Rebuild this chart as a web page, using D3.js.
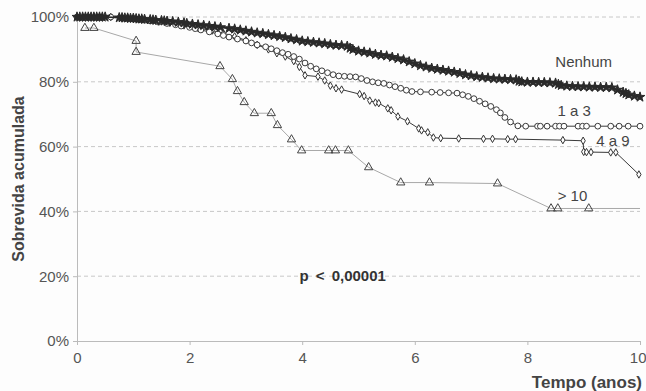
<!DOCTYPE html>
<meta charset="utf-8">
<style>
body { margin:0; background:#fdfdfd; }
svg { display:block; font-family: "Liberation Sans", Arial, sans-serif; }
.grid line { stroke:#c8c8c8; stroke-dasharray:4,3; }
.axis path, .axis line { stroke:#bbb; }
.axis text { fill:#555; font-size:15px; }
</style>
<body>
<svg width="646" height="391" id="vis"></svg>
<script src="https://d3js.org/d3.v7.min.js"></script>
<script>
// data: [tempo (anos), sobrevida %]
var nenhum = [[0,100],[0.05,100],[0.1,100],[0.15,100],[0.2,100],[0.25,100],[0.3,100],[0.35,100],[0.4,100],[0.45,100],[0.5,100],
  [0.75,99.8],[0.8,99.8],[0.85,99.7],[0.9,99.7],[0.95,99.6],[1.0,99.6],[1.05,99.5],[1.1,99.4],[1.15,99.4],[1.2,99.3],[1.3,99.2],
  [1.35,99.1],[1.4,99.0],[1.5,98.9],[1.55,98.8],[1.6,98.7],[1.7,98.6],[1.8,98.4],[1.9,98.2],[1.95,98.0],[2.05,97.8],[2.15,97.6],
  [2.25,97.4],[2.35,97.2],[2.45,97.0],[2.55,96.8],[2.7,96.5],[2.8,96.3],[2.9,96.0],[3.0,95.7],[3.1,95.4],[3.2,95.1],[3.3,94.9],
  [3.4,94.6],[3.5,94.3],[3.6,94.0],[3.7,93.7],[3.8,93.3],[3.9,93.0],[4.0,92.6],[4.1,92.4],[4.2,92.2],[4.3,92.0],[4.4,91.8],
  [4.5,91.5],[4.6,91.3],[4.7,91.2],[4.8,91.0],[4.85,90.4],[4.9,90.0],[5.0,89.5],[5.1,89.2],[5.2,88.9],[5.3,88.5],[5.4,88.2],
  [5.5,88.0],[5.6,87.6],[5.7,87.2],[5.8,86.8],[5.9,86.2],[6.0,85.6],[6.1,85.0],[6.2,84.6],[6.3,84.2],[6.4,83.9],[6.5,83.6],
  [6.6,83.3],[6.7,83.0],[6.8,82.6],[6.9,82.2],[7.0,81.9],[7.1,81.6],[7.2,81.4],[7.3,81.2],[7.4,81.0],[7.5,80.9],[7.6,80.8],
  [7.7,80.7],[7.8,80.6],[7.85,80.2],[7.9,80.0],[8.0,79.9],[8.1,79.9],[8.2,79.8],[8.3,79.8],[8.4,79.7],[8.5,79.6],[8.55,79.2],
  [8.6,78.9],[8.7,78.7],[8.8,78.6],[8.9,78.5],[9.0,78.5],[9.1,78.4],[9.2,78.4],[9.3,78.3],[9.4,78.3],[9.5,78.2],[9.6,77.5],
  [9.7,76.8],[9.75,76.4],[9.8,76.0],[9.9,75.6],[10,75.3]];

var umATres = [[0,100],[0.2,100],[0.4,100],[0.6,100],[0.8,99.8],[1.0,99.6],[1.1,99.3],[1.2,99.0],[1.3,98.8],[1.45,98.4],
  [1.6,98.0],[1.75,97.6],[1.85,97.2],[2.0,96.8],[2.1,96.4],[2.2,96.0],[2.35,95.4],[2.5,94.8],[2.6,94.3],[2.7,93.8],[2.85,93.2],
  [3.0,92.6],[3.1,92.0],[3.2,91.4],[3.35,90.8],[3.45,90.2],[3.55,89.6],[3.65,89.0],[3.75,88.5],[3.85,87.8],[3.95,87.0],
  [4.05,85.8],[4.15,84.8],[4.25,84.0],[4.35,83.4],[4.45,82.8],[4.55,82.2],[4.65,81.8],[4.75,81.7],[4.85,81.6],[4.95,81.5],
  [5.05,81.0],[5.15,80.4],[5.25,80.0],[5.35,79.7],[5.45,79.5],[5.55,79.0],[5.65,78.5],[5.75,78.0],[5.85,77.4],[5.95,77.0],
  [6.1,76.9],[6.3,76.8],[6.45,76.7],[6.6,76.6],[6.75,76.5],[6.85,76.0],[6.95,75.5],[7.05,74.8],[7.15,74.0],[7.25,73.2],
  [7.35,72.4],[7.45,71.4],[7.52,70.4],[7.6,69.0],[7.7,67.6],[7.83,66.4],[7.97,66.3],[8.18,66.3],[8.23,66.3],[8.35,66.3],
  [8.5,66.3],[8.57,66.3],[8.65,66.3],[8.9,66.3],[8.98,66.3],[9.05,66.3],[9.25,66.3],[9.48,66.3],[9.63,66.3],[9.79,66.3],[10,66.3]];

var quatroANove = [[0,100],[0.3,100],[0.6,100],[0.9,99.8],[1.15,99.4],[1.4,98.8],[1.65,98.2],[1.9,97.4],[2.15,96.6],
  [2.4,95.8],[2.6,95.0],[2.8,94.0],[3.0,92.8],[3.2,91.4],[3.4,90.0],[3.55,88.8],[3.7,87.8],[3.85,86.4],[3.95,84.6],[4.05,82.0],
  [4.28,81.6],[4.4,80.4],[4.5,78.8],[4.6,78.0],[4.7,77.6],[5.02,76.2],[5.1,75.6],[5.2,74.2],[5.3,73.6],[5.36,73.4],[5.52,71.8],
  [5.58,71.2],[5.7,69.3],[5.87,67.8],[6.07,65.6],[6.12,65.0],[6.23,64.4],[6.33,62.8],[6.46,62.6],[6.78,62.5],[7.22,62.4],
  [7.38,62.4],[7.65,62.3],[7.79,62.3],[8.63,62.0],[8.99,61.8],[9.0,58.4],[9.05,58.3],[9.13,58.3],[9.48,58.2],[9.57,58.2],[9.98,51.4]];

var maisDez = [[0.14,96.6],[0.3,96.6],[1.05,92.6],[1.05,89.2],[2.54,84.8],[2.76,80.8],[2.85,77.1],[2.97,73.7],[3.15,70.3],
  [3.45,70.3],[3.56,66.6],[3.81,62.2],[3.99,58.8],[4.47,58.8],[4.59,58.8],[4.82,58.8],[5.18,53.6],[5.75,48.9],[6.26,48.9],
  [7.47,48.6],[8.42,40.9],[8.54,40.9],[9.09,40.9],[10,40.9]];

var xTicks = [0, 2, 4, 6, 8, 10];
var yTicks = [0, 20, 40, 60, 80, 100];

var svg = d3.select("svg"),
    margin = {top: 17, right: 6, bottom: 50, left: 77},
    width = +svg.attr("width") - margin.left - margin.right,
    height = +svg.attr("height") - margin.top - margin.bottom;

var x = d3.scaleLinear().domain([0, 10]).range([0, width]),
    y = d3.scaleLinear().domain([0, 100]).range([height, 0]);

var g = svg.append("g")
    .attr("transform", "translate(" + margin.left + "," + margin.top + ")");

// dashed grid
g.append("g").attr("class", "grid")
  .selectAll("line").data(yTicks.filter(function(d){return d > 0;})).enter().append("line")
    .attr("x1", 0).attr("x2", width)
    .attr("y1", function(d){return y(d);}).attr("y2", function(d){return y(d);});

var xaxis = g.append("g")
    .attr("class", "axis axis--x")
    .attr("transform", "translate(0," + height + ")")
    .call(d3.axisBottom(x).tickValues(xTicks).tickSize(4).tickPadding(7));
xaxis.selectAll(".tick:last-of-type text").attr("text-anchor", "end").attr("dx", "6");

var yaxis = g.append("g")
    .attr("class", "axis axis--y")
    .call(d3.axisLeft(y).tickValues(yTicks).tickSize(4).tickPadding(4)
      .tickFormat(function(d){return d + "%";}));

var series = [
  {data: maisDez, line: "#a8a8a8", lw: 1, sym: d3.symbolTriangle, size: 30, fill: "none", stroke: "#444", skipLast: true},
  {data: quatroANove, line: "#3a3a3a", lw: 1, sym: d3.symbolDiamond, size: 16, fill: "#fff", stroke: "#333"},
  {data: umATres, line: "#3a3a3a", lw: 1, sym: d3.symbolCircle, size: 26, fill: "#fff", stroke: "#3a3a3a"},
  {data: nenhum, line: "#2a2a2a", lw: 1.6, sym: d3.symbolStar, size: 30, fill: "#2a2a2a", stroke: "#2a2a2a"}
];

var line = d3.line()
    .x(function(d){return x(d[0]);})
    .y(function(d){return y(d[1]);});

series.forEach(function(s) {
  g.append("path")
    .datum(s.data)
    .attr("fill", "none")
    .attr("stroke", s.line)
    .attr("stroke-width", s.lw)
    .attr("d", line);
  var pts = s.skipLast ? s.data.slice(0, -1) : s.data;
  g.append("g").selectAll("path").data(pts).enter().append("path")
    .attr("transform", function(d){return "translate(" + x(d[0]) + "," + y(d[1]) + ")";})
    .attr("d", d3.symbol().type(s.sym).size(s.size))
    .attr("fill", s.fill)
    .attr("stroke", s.stroke)
    .attr("stroke-width", 1);
});

// labels
var labels = [["Nenhum", 9.0, 84.6], ["1 a 3", 8.83, 69.4], ["4 a 9", 9.52, 60.1], ["> 10", 8.8, 43.2]];
g.selectAll("text.lab").data(labels).enter().append("text")
  .attr("class", "lab")
  .attr("x", function(d){return x(d[1]);})
  .attr("y", function(d){return y(d[2]);})
  .attr("text-anchor", "middle")
  .style("font-size", "15px")
  .style("fill", "#444")
  .text(function(d){return d[0];});

g.append("text")
  .attr("x", x(3.95)).attr("y", y(18.6))
  .style("font-family", "'Liberation Sans Narrow', 'Liberation Sans', sans-serif")
  .style("font-weight", "bold").style("font-size", "15px").style("fill", "#333")
  .style("word-spacing", "3px")
  .text("p < 0,00001");

svg.append("text")
  .attr("transform", "translate(24," + (margin.top + height / 2) + ") rotate(-90)")
  .attr("text-anchor", "middle")
  .style("font-weight", "bold").style("font-size", "16px").style("fill", "#444")
  .text("Sobrevida acumulada");

svg.append("text")
  .attr("x", 642).attr("y", 388)
  .attr("text-anchor", "end")
  .style("font-weight", "bold").style("font-size", "17px").style("fill", "#444")
  .text("Tempo (anos)");
</script>
</body>
